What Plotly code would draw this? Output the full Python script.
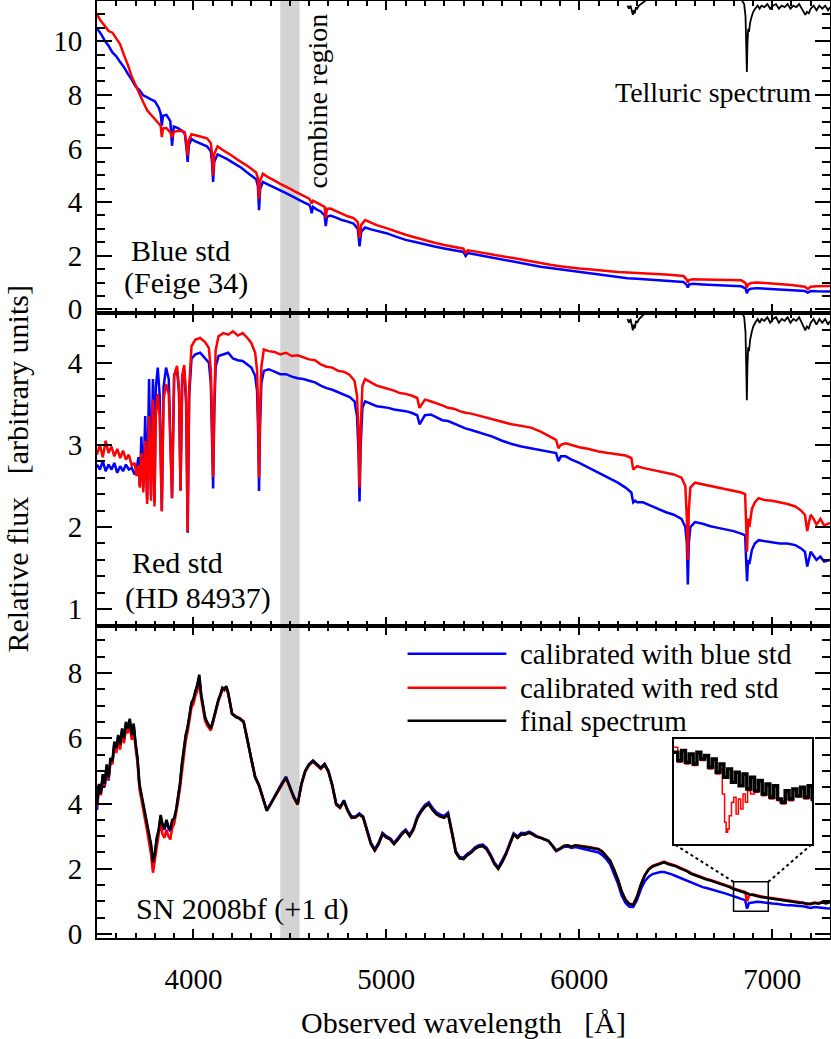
import plotly.graph_objects as go

FONT = "Liberation Serif"
BLUE = "#0000ff"
RED = "#ff0000"

# ---------------- Panel 1: blue standard (Feige 34) ----------------
wl_p1 = [3500, 3520, 3540, 3560, 3580, 3600, 3620, 3640, 3660, 3680,
         3700, 3720, 3740, 3760, 3780, 3800, 3820, 3830, 3836, 3842,
         3860, 3880, 3889, 3898, 3920, 3940, 3955, 3964, 3970, 3976,
         3990, 4010, 4030, 4050, 4070, 4090, 4096, 4102, 4108, 4125,
         4150, 4175, 4200, 4225, 4250, 4275, 4300, 4325, 4334, 4340,
         4346, 4360, 4380, 4400, 4425, 4450, 4475, 4500, 4525, 4550,
         4575, 4600, 4607, 4613, 4620, 4640, 4660, 4680, 4686, 4692,
         4710, 4740, 4770, 4800, 4830, 4852, 4861, 4870, 4890, 4920,
         4950, 5000, 5050, 5100, 5150, 5200, 5250, 5300, 5350, 5400,
         5411, 5422, 5450, 5500, 5550, 5600, 5650, 5700, 5750, 5800,
         5850, 5900, 5950, 6000, 6050, 6100, 6150, 6200, 6250, 6300,
         6350, 6400, 6450, 6500, 6540, 6556, 6563, 6570, 6590, 6640,
         6700, 6750, 6800, 6840, 6862, 6869, 6876, 6890, 6920, 6960,
         7000, 7050, 7100, 7150, 7170, 7185, 7200, 7230, 7260, 7300]
p1_blue = [10.47, 10.28, 10.02, 9.83, 9.58, 9.44, 9.22, 9.03, 8.78, 8.57,
           8.31, 8.18, 7.98, 7.92, 7.83, 7.76, 7.52, 7.30, 6.85, 7.22,
           7.25, 7.02, 6.10, 6.82, 6.76, 6.66, 6.55, 6.00, 5.50, 6.12,
           6.35, 6.26, 6.20, 6.14, 6.08, 5.90, 5.50, 4.75, 5.50, 5.78,
           5.70, 5.60, 5.49, 5.38, 5.27, 5.12, 4.99, 4.85, 4.60, 3.70,
           4.50, 4.75, 4.68, 4.62, 4.52, 4.44, 4.35, 4.25, 4.15, 4.07,
           3.98, 3.90, 3.80, 3.58, 3.82, 3.72, 3.65, 3.50, 3.10, 3.45,
           3.50, 3.42, 3.33, 3.27, 3.20, 3.00, 2.35, 2.90, 3.05, 2.98,
           2.92, 2.84, 2.71, 2.59, 2.51, 2.42, 2.34, 2.27, 2.20, 2.14,
           1.99, 2.10, 2.06, 1.99, 1.92, 1.86, 1.80, 1.72, 1.65, 1.59,
           1.54, 1.49, 1.44, 1.40, 1.35, 1.30, 1.25, 1.20, 1.16, 1.14,
           1.12, 1.10, 1.08, 1.06, 1.02, 0.92, 0.81, 0.93, 0.95, 0.93,
           0.91, 0.90, 0.88, 0.86, 0.78, 0.60, 0.72, 0.77, 0.79, 0.77,
           0.76, 0.74, 0.72, 0.70, 0.68, 0.62, 0.68, 0.67, 0.67, 0.66]
p1_red = [11.00, 10.75, 10.58, 10.38, 10.32, 10.08, 9.88, 9.48, 9.12, 8.68,
          8.36, 7.98, 7.72, 7.42, 7.26, 7.08, 6.96, 6.85, 6.42, 6.75,
          6.76, 6.60, 6.40, 6.62, 6.65, 6.66, 6.60, 6.20, 5.73, 6.30,
          6.53, 6.50, 6.45, 6.42, 6.38, 6.20, 5.80, 4.99, 5.80, 6.08,
          5.95, 5.85, 5.73, 5.60, 5.50, 5.37, 5.24, 5.10, 4.90, 4.13,
          4.80, 5.06, 4.96, 4.87, 4.78, 4.68, 4.60, 4.50, 4.40, 4.32,
          4.22, 4.13, 4.05, 3.95, 4.05, 3.97, 3.90, 3.82, 3.40, 3.75,
          3.76, 3.66, 3.56, 3.47, 3.40, 3.25, 2.66, 3.15, 3.33, 3.22,
          3.14, 3.03, 2.90, 2.78, 2.68, 2.57, 2.48, 2.40, 2.33, 2.26,
          2.08, 2.20, 2.17, 2.10, 2.04, 1.98, 1.92, 1.85, 1.79, 1.72,
          1.66, 1.61, 1.56, 1.52, 1.49, 1.45, 1.42, 1.39, 1.37, 1.36,
          1.34, 1.32, 1.30, 1.28, 1.24, 1.12, 1.00, 1.10, 1.12, 1.11,
          1.10, 1.10, 1.09, 1.08, 0.98, 0.81, 0.93, 0.98, 1.00, 0.98,
          0.96, 0.94, 0.91, 0.86, 0.84, 0.76, 0.84, 0.86, 0.87, 0.87]

# ---------------- Telluric transmission (plotted at top of panels 1 and 2) ----------------
wl_tel = [6250, 6258, 6266, 6272, 6278, 6282, 6288, 6294, 6300, 6310,
          6320, 6340, 6370, 6400, 6500, 6600, 6700, 6800, 6840, 6855,
          6862, 6866, 6869, 6872, 6876, 6880, 6886, 6894, 6902, 6912,
          6925, 6935, 6945, 6960, 6975, 6990, 7005, 7020, 7035, 7050,
          7065, 7080, 7095, 7110, 7125, 7140, 7155, 7165, 7172, 7180,
          7190, 7200, 7215, 7230, 7245, 7260, 7275, 7290, 7300]
tel_T = [0.985, 0.975, 0.985, 0.965, 0.955, 0.970, 0.960, 0.980, 0.975, 0.985,
         0.990, 1.000, 1.010, 1.020, 1.020, 1.020, 1.020, 1.015, 1.005, 0.990,
         0.950, 0.850, 0.770, 0.860, 0.910, 0.900, 0.930, 0.950, 0.965, 0.975,
         0.985, 0.975, 0.985, 0.980, 0.990, 0.975, 0.985, 0.990, 0.975, 0.985,
         0.980, 0.990, 0.975, 0.985, 0.980, 0.990, 0.975, 0.965, 0.955, 0.965,
         0.960, 0.975, 0.985, 0.970, 0.985, 0.975, 0.985, 0.970, 0.980]

# ---------------- Panel 2: red standard (HD 84937) ----------------
wl_p2 = [3500, 3515, 3530, 3545, 3560, 3575, 3590, 3605, 3620, 3635,
         3650, 3665, 3680, 3695, 3705, 3715, 3722, 3730, 3740, 3750,
         3760, 3770, 3780, 3790, 3798, 3805, 3815, 3825, 3836, 3845,
         3858, 3872, 3889, 3900, 3915, 3925, 3933, 3942, 3952, 3962,
         3970, 3978, 3990, 4010, 4035, 4060, 4080, 4090, 4096, 4102,
         4108, 4115, 4130, 4155, 4180, 4205, 4230, 4255, 4280, 4300,
         4320, 4330, 4336, 4340, 4345, 4352, 4365, 4390, 4420, 4450,
         4480, 4510, 4540, 4570, 4600, 4630, 4660, 4690, 4720, 4750,
         4780, 4810, 4835, 4848, 4856, 4861, 4867, 4876, 4890, 4920,
         4950, 4980, 5010, 5040, 5070, 5100, 5130, 5160, 5172, 5185,
         5200, 5230, 5260, 5290, 5320, 5350, 5380, 5410, 5440, 5470,
         5500, 5550, 5600, 5650, 5700, 5750, 5800, 5850, 5880, 5892,
         5905, 5930, 5960, 6000, 6050, 6100, 6150, 6200, 6240, 6270,
         6280, 6290, 6300, 6330, 6370, 6410, 6450, 6490, 6530, 6550,
         6558, 6563, 6568, 6576, 6600, 6640, 6680, 6720, 6760, 6800,
         6840, 6860, 6866, 6870, 6875, 6882, 6895, 6910, 6930, 6960,
         7000, 7040, 7080, 7120, 7150, 7170, 7182, 7190, 7200, 7215,
         7230, 7250, 7270, 7300]
p2_red = [2.88, 3.00, 2.85, 3.05, 2.90, 2.98, 2.86, 2.95, 2.84, 2.93,
          2.82, 2.88, 2.75, 2.78, 2.62, 2.75, 2.48, 2.90, 2.42, 3.05,
          2.28, 3.35, 2.32, 3.55, 2.25, 3.35, 3.62, 3.35, 2.19, 3.55,
          3.74, 3.62, 2.35, 3.85, 3.96, 3.70, 2.44, 3.85, 3.97, 3.60,
          1.95, 3.70, 4.20, 4.28, 4.30, 4.25, 4.18, 3.90, 3.30, 2.61,
          3.50, 4.15, 4.32, 4.36, 4.34, 4.38, 4.33, 4.36, 4.30, 4.24,
          4.12, 3.90, 3.30, 2.60, 3.40, 3.95, 4.16, 4.14, 4.13, 4.10,
          4.12, 4.08, 4.09, 4.06, 4.04, 4.03, 3.98, 3.95, 3.94, 3.90,
          3.89, 3.85, 3.78, 3.60, 3.10, 2.48, 3.20, 3.72, 3.80, 3.76,
          3.72, 3.70, 3.68, 3.66, 3.63, 3.62, 3.60, 3.57, 3.45, 3.50,
          3.55, 3.53, 3.50, 3.48, 3.45, 3.44, 3.41, 3.39, 3.38, 3.36,
          3.34, 3.31, 3.28, 3.25, 3.23, 3.21, 3.16, 3.10, 3.06, 2.96,
          3.00, 3.02, 3.00, 2.97, 2.95, 2.92, 2.90, 2.88, 2.87, 2.84,
          2.70, 2.72, 2.74, 2.72, 2.70, 2.68, 2.66, 2.64, 2.60, 2.50,
          2.10, 1.60, 2.20, 2.48, 2.54, 2.52, 2.50, 2.48, 2.46, 2.44,
          2.42, 2.40, 2.00, 1.70, 2.10, 2.00, 2.22, 2.30, 2.35, 2.33,
          2.32, 2.30, 2.28, 2.25, 2.20, 2.15, 1.95, 2.05, 2.15, 2.10,
          2.03, 2.10, 2.02, 2.05]
p2_blue = [2.76, 2.70, 2.80, 2.68, 2.76, 2.70, 2.78, 2.66, 2.74, 2.68,
           2.76, 2.70, 2.72, 2.64, 2.70, 2.85, 2.50, 3.10, 2.48, 3.35,
           2.33, 3.80, 2.38, 3.80, 2.30, 3.70, 3.94, 3.60, 2.20, 3.70,
           3.94, 3.80, 2.35, 3.85, 3.90, 3.65, 2.45, 3.80, 3.92, 3.50,
           1.93, 3.60, 4.05, 4.10, 4.12, 4.06, 4.00, 3.75, 3.20, 2.47,
           3.40, 3.95, 4.08, 4.10, 4.12, 4.05, 4.03, 4.02, 3.98, 3.94,
           3.84, 3.65, 3.10, 2.44, 3.20, 3.75, 3.90, 3.92, 3.89, 3.86,
           3.86, 3.83, 3.81, 3.80, 3.78, 3.76, 3.72, 3.69, 3.67, 3.64,
           3.61, 3.58, 3.53, 3.35, 2.90, 2.31, 3.00, 3.45, 3.53, 3.50,
           3.47, 3.46, 3.45, 3.43, 3.42, 3.41, 3.39, 3.36, 3.25, 3.30,
           3.36, 3.37, 3.33, 3.30, 3.29, 3.26, 3.23, 3.20, 3.18, 3.16,
           3.14, 3.10, 3.05, 3.01, 2.98, 2.96, 2.94, 2.92, 2.90, 2.80,
           2.86, 2.86, 2.82, 2.78, 2.72, 2.65, 2.59, 2.54, 2.48, 2.42,
           2.30, 2.32, 2.30, 2.30, 2.26, 2.22, 2.18, 2.15, 2.10, 2.00,
           1.80, 1.30, 1.80, 2.00, 2.06, 2.04, 2.01, 1.99, 1.97, 1.95,
           1.92, 1.90, 1.55, 1.34, 1.60, 1.55, 1.72, 1.80, 1.84, 1.83,
           1.82, 1.80, 1.80, 1.78, 1.74, 1.70, 1.52, 1.60, 1.70, 1.65,
           1.60, 1.64, 1.58, 1.60]

# ---------------- Panel 3: SN 2008bf (+1 d) ----------------
wl_sn = [3500, 3510, 3520, 3530, 3540, 3550, 3560, 3570, 3580, 3590,
         3600, 3610, 3620, 3630, 3640, 3650, 3660, 3670, 3680, 3690,
         3700, 3710, 3720, 3730, 3740, 3750, 3760, 3770, 3780, 3790,
         3800, 3810, 3820, 3830, 3840, 3850, 3860, 3870, 3880, 3890,
         3900, 3910, 3920, 3930, 3940, 3950, 3960, 3970, 3980, 3990,
         4000, 4010, 4020, 4030, 4040, 4050, 4060, 4070, 4080, 4090,
         4100, 4110, 4120, 4130, 4140, 4150, 4160, 4170, 4180, 4190,
         4200, 4220, 4240, 4260, 4280, 4300, 4320, 4340, 4360, 4380,
         4400, 4420, 4440, 4460, 4480, 4500, 4520, 4540, 4560, 4580,
         4600, 4620, 4640, 4660, 4680, 4700, 4720, 4740, 4760, 4780,
         4800, 4820, 4840, 4860, 4880, 4900, 4920, 4940, 4960, 4980,
         5000, 5020, 5040, 5060, 5080, 5100, 5120, 5140, 5160, 5180,
         5200, 5220, 5240, 5260, 5280, 5300, 5320, 5340, 5360, 5380,
         5400, 5420, 5440, 5460, 5480, 5500, 5520, 5540, 5560, 5580,
         5600, 5620, 5640, 5660, 5680, 5700, 5720, 5740, 5760, 5780,
         5800, 5820, 5840, 5860, 5880, 5900, 5920, 5940, 5960, 5980,
         6000, 6020, 6040, 6060, 6080, 6100, 6120, 6140, 6160, 6180,
         6200, 6220, 6240, 6260, 6280, 6300, 6320, 6340, 6360, 6380,
         6400, 6420, 6440, 6460, 6480, 6500, 6520, 6540, 6560, 6580,
         6600, 6620, 6640, 6660, 6680, 6700, 6720, 6740, 6760, 6780,
         6800, 6820, 6840, 6860, 6870, 6880, 6900, 6920, 6940, 6960,
         6980, 7000, 7020, 7040, 7060, 7080, 7100, 7120, 7140, 7160,
         7180, 7200, 7220, 7240, 7260, 7280, 7300]
sn_final = [3.98, 4.60, 4.30, 4.90, 4.60, 5.20, 4.80, 5.40, 5.30, 5.90,
            5.70, 6.10, 5.80, 6.30, 6.00, 6.50, 6.30, 6.60, 6.10, 6.45,
            5.85, 5.40, 4.60, 4.30, 3.95, 3.70, 3.35, 3.00, 2.75, 2.20,
            2.50, 2.95, 3.20, 3.65, 3.35, 3.25, 3.50, 3.30, 3.20, 3.50,
            3.55, 3.80, 4.20, 4.60, 5.20, 5.70, 6.10, 6.35, 6.80, 7.10,
            7.20, 7.45, 7.60, 7.95, 7.35, 6.95, 6.65, 6.50, 6.40, 6.30,
            6.50, 6.75, 7.00, 7.20, 7.35, 7.55, 7.50, 7.60, 7.40, 7.10,
            6.75, 6.65, 6.60, 6.50, 5.95, 5.30, 4.80, 4.55, 4.20, 3.78,
            3.98, 4.20, 4.40, 4.62, 4.80, 4.50, 4.20, 3.98, 4.60, 5.00,
            5.20, 5.30, 5.20, 5.08, 5.20, 4.98, 4.55, 3.98, 3.88, 4.08,
            3.78, 3.57, 3.58, 3.67, 3.57, 3.17, 2.76, 2.56, 2.76, 3.06,
            2.96, 2.90, 2.76, 2.90, 3.06, 3.17, 3.00, 3.20, 3.55, 3.75,
            3.90, 3.98, 3.80, 3.67, 3.60, 3.57, 3.67, 3.10, 2.50, 2.32,
            2.30, 2.42, 2.50, 2.62, 2.68, 2.70, 2.60, 2.40, 2.15, 2.00,
            2.20, 2.45, 2.75, 3.05, 2.95, 3.06, 3.05, 3.11, 3.05, 2.98,
            2.95, 2.90, 2.86, 2.72, 2.56, 2.62, 2.70, 2.72, 2.68, 2.72,
            2.70, 2.68, 2.66, 2.65, 2.62, 2.60, 2.52, 2.40, 2.25, 1.98,
            1.68, 1.30, 1.05, 0.92, 0.90, 1.15, 1.52, 1.80, 1.98, 2.07,
            2.12, 2.17, 2.20, 2.15, 2.12, 2.08, 2.02, 1.98, 1.92, 1.85,
            1.80, 1.76, 1.71, 1.67, 1.64, 1.60, 1.56, 1.52, 1.49, 1.44,
            1.38, 1.35, 1.30, 1.27, 1.25, 1.22, 1.20, 1.16, 1.14, 1.12,
            1.10, 1.09, 1.08, 1.06, 1.04, 1.01, 0.98, 0.97, 0.96, 0.95,
            0.93, 0.92, 0.95, 0.93, 0.97, 0.94, 0.98]
sn_blue = [3.80, 4.50, 4.40, 4.80, 4.50, 5.10, 4.70, 5.30, 5.25, 5.85,
           5.65, 6.05, 5.75, 6.25, 5.95, 6.45, 6.25, 6.55, 6.05, 6.40,
           5.80, 5.35, 4.55, 4.25, 3.90, 3.65, 3.30, 2.95, 2.70, 2.15,
           2.45, 2.90, 3.15, 3.60, 3.30, 3.20, 3.45, 3.25, 3.15, 3.45,
           3.50, 3.78, 4.18, 4.58, 5.18, 5.68, 6.08, 6.32, 6.78, 7.08,
           7.18, 7.42, 7.58, 7.90, 7.32, 6.92, 6.62, 6.48, 6.38, 6.28,
           6.48, 6.72, 6.98, 7.18, 7.32, 7.52, 7.48, 7.58, 7.38, 7.08,
           6.75, 6.65, 6.60, 6.50, 5.95, 5.30, 4.82, 4.57, 4.22, 3.80,
           4.00, 4.22, 4.42, 4.64, 4.82, 4.52, 4.22, 4.00, 4.62, 5.02,
           5.22, 5.32, 5.22, 5.10, 5.22, 5.00, 4.57, 4.00, 3.90, 4.10,
           3.80, 3.60, 3.60, 3.70, 3.60, 3.20, 2.80, 2.60, 2.80, 3.10,
           3.00, 2.94, 2.80, 2.94, 3.10, 3.20, 3.04, 3.24, 3.60, 3.80,
           3.96, 4.04, 3.86, 3.73, 3.66, 3.62, 3.72, 3.15, 2.55, 2.36,
           2.34, 2.46, 2.54, 2.66, 2.72, 2.74, 2.64, 2.44, 2.19, 2.04,
           2.24, 2.48, 2.79, 3.09, 2.99, 3.10, 3.09, 3.14, 3.08, 3.00,
           2.95, 2.90, 2.85, 2.70, 2.54, 2.60, 2.67, 2.68, 2.64, 2.67,
           2.64, 2.62, 2.59, 2.57, 2.53, 2.50, 2.42, 2.30, 2.14, 1.86,
           1.56, 1.18, 0.95, 0.84, 0.83, 1.05, 1.38, 1.62, 1.76, 1.84,
           1.88, 1.90, 1.90, 1.87, 1.83, 1.78, 1.73, 1.69, 1.64, 1.58,
           1.53, 1.49, 1.44, 1.41, 1.38, 1.34, 1.31, 1.27, 1.24, 1.20,
           1.15, 1.12, 1.08, 1.04, 0.78, 0.95, 0.97, 0.99, 0.98, 0.96,
           0.95, 0.94, 0.93, 0.91, 0.90, 0.88, 0.88, 0.86, 0.86, 0.85,
           0.83, 0.80, 0.83, 0.81, 0.80, 0.79, 0.78]
sn_red = [3.90, 4.55, 4.25, 4.85, 4.55, 5.15, 4.75, 5.30, 5.20, 5.80,
          5.55, 5.95, 5.65, 6.15, 5.85, 6.30, 6.15, 6.45, 5.95, 6.30,
          5.70, 5.25, 4.45, 4.15, 3.80, 3.50, 3.15, 2.80, 2.45, 1.88,
          2.25, 2.70, 3.00, 3.45, 3.05, 2.95, 3.20, 3.00, 2.90, 3.25,
          3.38, 3.68, 4.05, 4.45, 5.00, 5.50, 5.92, 6.20, 6.62, 6.95,
          7.05, 7.30, 7.45, 7.78, 7.22, 6.85, 6.55, 6.40, 6.32, 6.24,
          6.45, 6.70, 6.95, 7.15, 7.30, 7.50, 7.46, 7.55, 7.36, 7.08,
          6.76, 6.68, 6.62, 6.52, 5.98, 5.32, 4.82, 4.55, 4.20, 3.78,
          3.98, 4.18, 4.38, 4.60, 4.78, 4.48, 4.18, 3.96, 4.58, 4.98,
          5.18, 5.28, 5.18, 5.06, 5.18, 4.96, 4.53, 3.96, 3.86, 4.06,
          3.76, 3.56, 3.57, 3.66, 3.56, 3.16, 2.76, 2.56, 2.76, 3.06,
          2.96, 2.90, 2.76, 2.90, 3.06, 3.17, 3.00, 3.20, 3.55, 3.75,
          3.90, 3.98, 3.80, 3.67, 3.60, 3.57, 3.67, 3.10, 2.50, 2.32,
          2.30, 2.42, 2.50, 2.62, 2.68, 2.70, 2.60, 2.40, 2.15, 2.00,
          2.20, 2.45, 2.75, 3.05, 2.95, 3.06, 3.05, 3.11, 3.05, 2.98,
          2.95, 2.90, 2.86, 2.72, 2.56, 2.62, 2.70, 2.72, 2.68, 2.72,
          2.71, 2.69, 2.67, 2.66, 2.63, 2.61, 2.53, 2.41, 2.26, 1.99,
          1.69, 1.31, 1.06, 0.93, 0.91, 1.16, 1.53, 1.81, 1.99, 2.09,
          2.14, 2.19, 2.22, 2.17, 2.14, 2.10, 2.04, 2.00, 1.94, 1.87,
          1.82, 1.78, 1.73, 1.69, 1.66, 1.62, 1.58, 1.54, 1.51, 1.46,
          1.40, 1.37, 1.32, 1.29, 1.00, 1.18, 1.22, 1.18, 1.16, 1.14,
          1.12, 1.11, 1.10, 1.08, 1.06, 1.03, 1.00, 0.99, 0.98, 0.97,
          0.90, 0.94, 0.97, 0.95, 0.99, 0.96, 1.00]

# ---------------- Inset (zoom on the telluric B band in the SN spectrum) ----------------
wl_inset = [6800, 6805, 6810, 6815, 6820, 6825, 6830, 6835, 6840, 6845,
            6850, 6855, 6860, 6865, 6870, 6875, 6880, 6885, 6890, 6895,
            6900, 6905, 6910, 6915, 6920, 6925, 6930, 6935, 6940, 6945,
            6950, 6955, 6960, 6965, 6970, 6975, 6980]
inset_final = [1.40, 1.35, 1.41, 1.34, 1.39, 1.33, 1.40, 1.36, 1.38, 1.31,
               1.36, 1.28, 1.33, 1.25, 1.30, 1.22, 1.28, 1.20, 1.27, 1.18,
               1.25, 1.17, 1.23, 1.15, 1.21, 1.13, 1.20, 1.12, 1.10, 1.17,
               1.12, 1.18, 1.14, 1.19, 1.13, 1.20, 1.11]
wl_inset_red = [6800, 6805, 6810, 6815, 6820, 6825, 6830, 6835, 6840, 6845,
                6850, 6855, 6860, 6863, 6866, 6868, 6870, 6872, 6875, 6878,
                6881, 6884, 6887, 6890, 6893, 6896, 6900, 6905, 6910, 6915,
                6920, 6925, 6930, 6935, 6940, 6945, 6950, 6955, 6960, 6965,
                6970, 6975, 6980]
inset_red = [1.43, 1.34, 1.40, 1.33, 1.38, 1.32, 1.39, 1.35, 1.37, 1.30,
             1.35, 1.27, 1.30, 1.15, 0.98, 0.92, 0.94, 1.02, 1.10, 1.13,
             1.03, 1.12, 1.06, 1.15, 1.10, 1.17, 1.15, 1.16, 1.22, 1.14,
             1.20, 1.12, 1.19, 1.11, 1.09, 1.16, 1.11, 1.17, 1.13, 1.18,
             1.12, 1.19, 1.10]

x_ticks = [4000, 5000, 6000, 7000]
combine_region = [4450, 4550]
zoom_box_x = [6800, 6980]
zoom_box_y = [0.7, 1.6]
inset_y_range = [0.85, 1.48]
legend_names = ["calibrated with blue std", "calibrated with red std", "final spectrum"]

# ---------------- axis ranges / layout geometry ----------------
XR = [3500, 7300]
Y1R = [-0.15, 11.5]
Y2R = [0.8, 4.6]
Y3R = [-0.12, 9.45]
D1, D2, D3 = [2 / 3, 1.0], [1 / 3, 2 / 3], [0.0, 1 / 3]

# inset box placed in panel-3 data coordinates
inset_x_pos = [6491, 7207]
inset_y_pos = [2.76, 5.98]

fig = go.Figure()

def line(x, y, color, width, xa, ya, shape="linear"):
    fig.add_trace(go.Scatter(x=x, y=y, mode="lines", xaxis=xa, yaxis=ya,
                             line=dict(color=color, width=width, shape=shape),
                             showlegend=False, hoverinfo="skip"))

# panel 1
line(wl_p1, p1_blue, BLUE, 2.5, "x", "y")
line(wl_p1, p1_red, RED, 2.5, "x", "y")
line(wl_tel, [Y1R[1] * t for t in tel_T], "black", 1.8, "x", "y")
# panel 2
line(wl_p2, p2_blue, BLUE, 2.5, "x2", "y2")
line(wl_p2, p2_red, RED, 2.5, "x2", "y2")
line(wl_tel, [Y2R[1] * t for t in tel_T], "black", 1.8, "x2", "y2")
# panel 3
line(wl_sn, sn_blue, BLUE, 2.5, "x3", "y3")
line(wl_sn, sn_red, RED, 2.5, "x3", "y3")
line(wl_sn, sn_final, "black", 2.6, "x3", "y3")
# inset
line(wl_inset_red, inset_red, RED, 1.5, "x4", "y4", "hv")
line(wl_inset, inset_final, "black", 3.5, "x4", "y4", "hv")

tickfont = dict(family=FONT, size=29, color="black")

def xax(domain, anchor, labels=False, matches=None):
    d = dict(domain=[0, 1], anchor=anchor, range=XR, showline=True, linewidth=2,
             linecolor="black", mirror="ticks", ticks="inside", ticklen=9,
             tickwidth=2, tickcolor="black", tickmode="array", tickvals=x_ticks,
             ticktext=[str(v) for v in x_ticks],
             minor=dict(dtick=100, tick0=0, ticklen=5, tickwidth=1.5,
                        tickcolor="black", ticks="inside", showgrid=False),
             showgrid=False, zeroline=False, showticklabels=labels,
             tickfont=tickfont, ticklabelstandoff=14)
    if matches:
        d["matches"] = matches
    return d

def yax(domain, anchor, rng, dtick, mdtick):
    return dict(domain=domain, anchor=anchor, range=rng, showline=True, linewidth=2,
                linecolor="black", mirror="ticks", ticks="inside", ticklen=15,
                tickwidth=2, tickcolor="black", dtick=dtick, tick0=0,
                minor=dict(dtick=mdtick, ticklen=8, tickwidth=1.5,
                           tickcolor="black", ticks="inside", showgrid=False),
                showgrid=False, zeroline=False, tickfont=tickfont,
                ticklabelstandoff=7)

ix0 = (inset_x_pos[0] - XR[0]) / (XR[1] - XR[0])
ix1 = (inset_x_pos[1] - XR[0]) / (XR[1] - XR[0])
iy0 = D3[0] + (inset_y_pos[0] - Y3R[0]) / (Y3R[1] - Y3R[0]) * (D3[1] - D3[0])
iy1 = D3[0] + (inset_y_pos[1] - Y3R[0]) / (Y3R[1] - Y3R[0]) * (D3[1] - D3[0])

fig.update_layout(
    width=831, height=1039,
    margin=dict(l=97, r=1, t=1, b=101, autoexpand=False),
    paper_bgcolor="white", plot_bgcolor="white",
    font=dict(family=FONT, color="black"),
    showlegend=False,
    xaxis=xax(D1, "y"),
    xaxis2=xax(D2, "y2", matches="x"),
    xaxis3=xax(D3, "y3", labels=True, matches="x"),
    yaxis=yax(D1, "x", Y1R, 2, 0.5),
    yaxis2=yax(D2, "x2", Y2R, 1, 0.2),
    yaxis3=yax(D3, "x3", Y3R, 2, 0.5),
    xaxis4=dict(domain=[ix0, ix1], anchor="y4", range=zoom_box_x, showline=True,
                mirror=True, linewidth=1.5, linecolor="black", ticks="",
                showticklabels=False, showgrid=False, zeroline=False),
    yaxis4=dict(domain=[iy0, iy1], anchor="x4", range=inset_y_range, showline=True,
                mirror=True, linewidth=1.5, linecolor="black", ticks="",
                showticklabels=False, showgrid=False, zeroline=False),
)

shapes = [
    dict(type="rect", xref="x", yref="paper", x0=combine_region[0], x1=combine_region[1],
         y0=0, y1=1, fillcolor="#d3d3d3", line=dict(width=0), layer="below"),
    dict(type="rect", xref="x3", yref="y3", x0=zoom_box_x[0], x1=zoom_box_x[1],
         y0=zoom_box_y[0], y1=zoom_box_y[1], line=dict(color="black", width=1.5)),
    dict(type="line", xref="x3", yref="y3", x0=zoom_box_x[0], y0=zoom_box_y[1],
         x1=inset_x_pos[0], y1=inset_y_pos[0], line=dict(color="black", width=2, dash="dot")),
    dict(type="line", xref="x3", yref="y3", x0=zoom_box_x[1], y0=zoom_box_y[1],
         x1=inset_x_pos[1], y1=inset_y_pos[0], line=dict(color="black", width=2, dash="dot")),
]
legend_colors = [BLUE, RED, "black"]
legend_y = [8.59, 7.55, 6.54]
for name, col, ly in zip(legend_names, legend_colors, legend_y):
    shapes.append(dict(type="line", xref="x3", yref="y3", x0=5110, x1=5622, y0=ly, y1=ly,
                       line=dict(color=col, width=2.5)))
fig.update_layout(shapes=shapes)

ann = []
def text(t, x, y, xref, yref, size, xanchor="center", yanchor="middle", angle=0, **kw):
    ann.append(dict(text=t, x=x, y=y, xref=xref, yref=yref, showarrow=False,
                    xanchor=xanchor, yanchor=yanchor, textangle=angle,
                    font=dict(family=FONT, size=size, color="black"), **kw))

for name, ly in zip(legend_names, legend_y):
    text(name, 5680, ly, "x3", "y3", 29, xanchor="left")
text("combine region", 4645, 7.78, "x", "y", 28, angle=-90)
text("Telluric spectrum", 7215, 8.08, "x", "y", 28, xanchor="right")
text("Blue std", 3931, 2.20, "x", "y", 30)
text("(Feige 34)", 3963, 0.97, "x", "y", 30)
text("Red std", 3916, 1.57, "x2", "y2", 30)
text("(HD 84937)", 4025, 1.14, "x2", "y2", 30)
text("SN 2008bf (+1 d)", 4252, 0.77, "x3", "y3", 30)
text("Observed wavelength   [Å]", 0.5, 0, "paper", "paper", 30, yshift=-84)
text("Relative flux   [arbitrary units]", 0, 0.5, "paper", "paper", 30, angle=-90, xshift=-80)
fig.update_layout(annotations=ann)

fig.write_html("out.html", config={"displayModeBar": False},
               post_script="document.body.style.margin='0px';document.body.style.overflow='hidden';")
